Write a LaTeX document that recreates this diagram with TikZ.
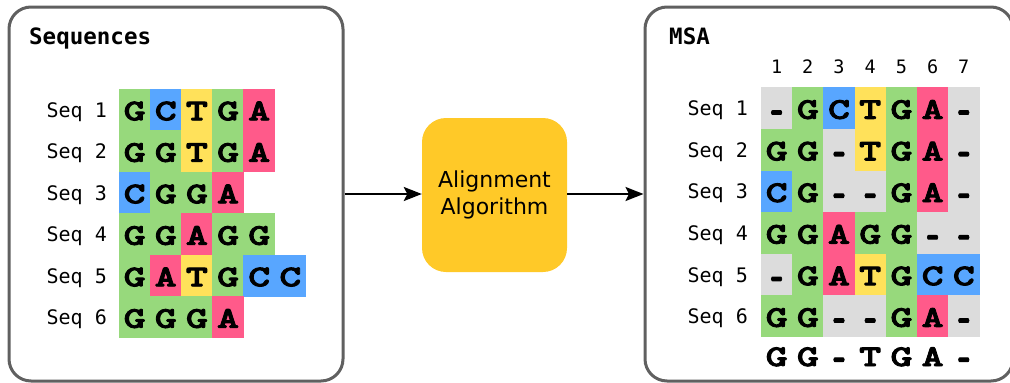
\documentclass[tikz,border=0pt]{standalone}
\usepackage{fontspec}
\newfontfamily\dvmono{DejaVu Sans Mono}
\newfontfamily\dvsans{DejaVu Sans}
\newfontfamily\nucfont{lmmonolt10-bold.otf}[FakeStretch=1.4, FakeBold=3]
\usetikzlibrary{arrows.meta}
\definecolor{baseG}{HTML}{97D97C}
\definecolor{baseC}{HTML}{58A6FF}
\definecolor{baseT}{HTML}{FFE15A}
\definecolor{baseA}{HTML}{FF5A8A}
\definecolor{gapgray}{HTML}{DCDCDC}
\definecolor{panelline}{HTML}{606060}
\definecolor{algofill}{HTML}{FFC928}
% a gap is printed as a short, heavy dash centred on the capitals
\newcommand\basechar[1]{\if-#1\raisebox{-5.5pt}{$\vcenter{\hbox{\scalebox{0.6}[1.4]{-}}}$}\else#1\fi}
\tikzset{
  panel/.style={draw=panelline, line width=3pt, rounded corners=22pt, fill=white},
  paneltitle/.style={anchor=base west, inner sep=0pt, font=\fontsize{22.5}{27}\dvmono\bfseries},
  seqlabel/.style={anchor=base east, inner sep=0pt, font=\fontsize{20}{24}\dvmono},
  colnum/.style={anchor=base, inner sep=0pt, font=\fontsize{18.5}{22}\dvmono},
  cell/.style={minimum width=31.4pt, minimum height=41.8pt, inner sep=0pt, outer sep=0pt,
    text height=21pt, text depth=0pt, font=\fontsize{30}{30}\nucfont},
  nucG/.style={cell, fill=baseG},
  nucC/.style={cell, fill=baseC},
  nucT/.style={cell, fill=baseT},
  nucA/.style={cell, fill=baseA},
  nuc-/.style={cell, fill=gapgray},
  consensus/.style={anchor=base, inner sep=0pt, font=\fontsize{30}{30}\nucfont},
  algo/.style={fill=algofill, rounded corners=24pt, minimum width=145pt, minimum height=154pt,
    align=center, font=\fontsize{22}{27.5}\dvsans},
  flow/.style={line width=2.3pt, -{Stealth[length=18pt, width=14pt, inset=3.5pt]}}
}
\begin{document}
\begin{tikzpicture}[x=1pt, y=-1pt]
\useasboundingbox (0,0) rectangle (1010,383);
\clip (0,0) rectangle (1010,383);

% input panel
\node[panel, minimum width=334pt, minimum height=374pt] (seqbox) at (176,194) {};
\node[paneltitle] (seqtitle) at (29,44.5) {Sequences};

% unaligned sequences
\foreach \row [count=\r] in {{G,C,T,G,A},{G,G,T,G,A},{C,G,G,A},{G,G,A,G,G},{G,A,T,G,C,C},{G,G,G,A}} {
  \node[seqlabel] (inlab\r) at (107,{89+(\r-0.5)*41.5+7.3}) {Seq\ \r};
  \foreach \b [count=\c] in \row {
    \node[nuc\b] (in-\r-\c) at ({119+(\c-0.5)*31.15},{89+(\r-0.5)*41.5}) {\basechar{\b}};
  }
}

% alignment step
\node[algo] (algo) at (494.5,195) {Alignment\\Algorithm};

% output panel
\node[panel, minimum width=368pt, minimum height=374pt] (msabox) at (829,194) {};
\node[paneltitle] (msatitle) at (669,44.5) {MSA};

\foreach \c in {1,...,7} {
  \node[colnum] (col\c) at ({761+(\c-0.5)*31.2},73.3) {\c};
}

% aligned sequences
\foreach \row [count=\r] in {{-,G,C,T,G,A,-},{G,G,-,T,G,A,-},{C,G,-,-,G,A,-},{G,G,A,G,G,-,-},{-,G,A,T,G,C,C},{G,G,-,-,G,A,-}} {
  \node[seqlabel] (outlab\r) at (748,{87.5+(\r-0.5)*41.6+7.3}) {Seq\ \r};
  \foreach \b [count=\c] in \row {
    \node[nuc\b] (out-\r-\c) at ({761+(\c-0.5)*31.2},{87.5+(\r-0.5)*41.6}) {\basechar{\b}};
  }
}

% consensus line
\foreach \b [count=\c] in {G,G,-,T,G,A,-} {
  \node[consensus] (cons\c) at ({761+(\c-0.5)*31.2},366) {\basechar{\b}};
}

% flow arrows
\draw[flow] (seqbox.east) -- (algo.west |- seqbox.east);
\draw[flow] (algo.east |- msabox.west) -- (msabox.west);
\end{tikzpicture}
\end{document}
